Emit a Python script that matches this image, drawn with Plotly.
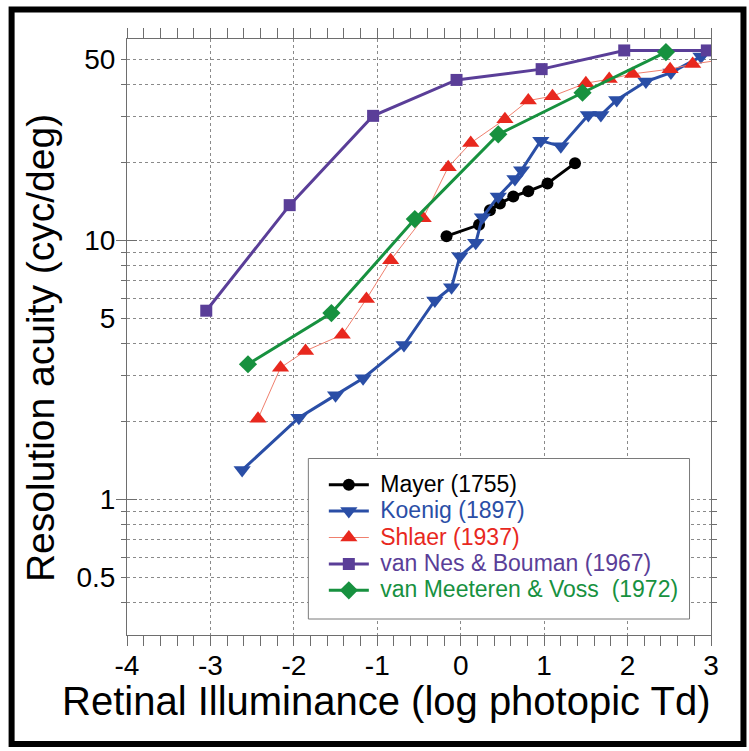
import plotly.graph_objects as go
import math

# ---- data (log photopic Td, cyc/deg) ----
mayer_x = [-0.17, 0.22, 0.35, 0.47, 0.63, 0.81, 1.04, 1.37]
mayer_y = [10.4, 11.5, 13.1, 13.9, 14.8, 15.5, 16.6, 19.9]

koenig_x = [-2.62, -1.94, -1.50, -1.17, -0.68, -0.31, -0.11, -0.01, 0.18, 0.26, 0.45, 0.65, 0.73, 0.96, 1.20, 1.53, 1.68, 1.87, 2.22, 2.52, 2.88]
koenig_y = [1.30, 2.07, 2.53, 2.94, 3.95, 5.87, 6.6, 8.7, 9.8, 12.3, 14.8, 17.3, 18.7, 24.3, 23.1, 30.5, 30.5, 34.9, 41.1, 44.5, 51.3]

shlaer_x = [-2.43, -2.16, -1.86, -1.42, -1.13, -0.84, -0.45, -0.15, 0.12, 0.53, 0.81, 1.10, 1.50, 1.78, 2.06, 2.51, 2.78, 3.15]
shlaer_y = [2.05, 3.23, 3.75, 4.33, 5.95, 8.4, 12.2, 19.2, 23.8, 29.4, 34.7, 36.1, 40.5, 42.0, 44.0, 45.9, 48.0, 50.0]

vannes_x = [-3.05, -2.05, -1.05, -0.05, 0.97, 1.96, 2.95]
vannes_y = [5.36, 13.7, 30.3, 41.7, 45.9, 54.2, 54.2]

vanmeeteren_x = [-2.55, -1.55, -0.55, 0.45, 1.46, 2.46]
vanmeeteren_y = [3.33, 5.25, 12.1, 25.7, 37.2, 53.4]

y_tickvals = [0.5, 1, 5, 10, 50]
y_ticktext = ["0.5", "1", "5", "10", "50"]
y_minorvals = [0.4, 0.6, 0.7, 0.8, 0.9, 2, 3, 4, 6, 7, 8, 9, 20, 30, 40]
x_tickvals = [-4, -3, -2, -1, 0, 1, 2, 3]
x_ticktext = ["-4", "-3", "-2", "-1", "0", "1", "2", "3"]

BLACK = "#000000"
BLUE = "#2a4ea6"
RED = "#e8281e"
RED_LINE = "#f0806e"
PURPLE = "#5a3e98"
GREEN = "#17913f"

FONT = "Liberation Sans, Arial, Helvetica, sans-serif"

fig = go.Figure()

def label(text, color):
    return f"<span style='color:{color}; font-size:23px'>&nbsp;{text}</span>"

fig.add_trace(go.Scatter(x=mayer_x, y=mayer_y, mode="lines+markers",
                         name=label("Mayer (1755)", BLACK),
                         line=dict(color=BLACK, width=3),
                         marker=dict(symbol="circle", size=12, color=BLACK)))
fig.add_trace(go.Scatter(x=koenig_x, y=koenig_y, mode="lines+markers",
                         name=label("Koenig (1897)", BLUE),
                         line=dict(color=BLUE, width=3),
                         marker=dict(symbol="triangle-down", size=15, color=BLUE)))
fig.add_trace(go.Scatter(x=shlaer_x, y=shlaer_y, mode="lines+markers",
                         name=label("Shlaer (1937)", RED),
                         line=dict(color=RED_LINE, width=1),
                         marker=dict(symbol="triangle-up", size=15, color=RED)))
fig.add_trace(go.Scatter(x=vannes_x, y=vannes_y, mode="lines+markers",
                         name=label("van Nes &amp; Bouman (1967)", PURPLE),
                         line=dict(color=PURPLE, width=3),
                         marker=dict(symbol="square", size=12, color=PURPLE)))
fig.add_trace(go.Scatter(x=vanmeeteren_x, y=vanmeeteren_y, mode="lines+markers",
                         name=label("van Meeteren &amp; Voss&nbsp; (1972)", GREEN),
                         line=dict(color=GREEN, width=3),
                         marker=dict(symbol="diamond", size=14, color=GREEN)))

# dummy traces to attach overlay axes (long major ticks at 1 and 10)
fig.add_trace(go.Scatter(x=[-10], y=[1], yaxis="y2", mode="markers",
                         showlegend=False, hoverinfo="skip", marker=dict(opacity=0)))
fig.add_trace(go.Scatter(x=[-10], y=[1], yaxis="y3", mode="markers",
                         showlegend=False, hoverinfo="skip", marker=dict(opacity=0)))

AX = "#6e6e6e"
GRID = "#8a8a8a"
yr = [math.log10(0.3), math.log10(60)]

W, H = 749, 751
L, R, T, B = 127, 37.5, 39, 116
pw = W - L - R
ph = H - T - B

def px(xp):
    return (xp - L) / pw

def py(yp):
    return (H - B - yp) / ph

fig.update_layout(
    width=W, height=H,
    margin=dict(l=L, r=R, t=T, b=B),
    paper_bgcolor="white", plot_bgcolor="white",
    font=dict(family=FONT, color="black"),
    showlegend=True,
    legend=dict(x=px(324), y=py(466.5), xanchor="left", yanchor="top",
                bgcolor="rgba(0,0,0,0)", borderwidth=0,
                font=dict(size=18, family=FONT), tracegroupgap=0,
                itemwidth=40),
    xaxis=dict(range=[-4, 3], tickvals=x_tickvals, ticktext=x_ticktext,
               ticks="outside", ticklen=10, ticklabelstandoff=-5,
               tickcolor=AX, tickwidth=1, showline=True, linecolor=AX, linewidth=1,
               mirror="allticks", showgrid=True, gridcolor=GRID, griddash="dot",
               gridwidth=1, zeroline=False,
               tickfont=dict(size=28, family=FONT),
               minor=dict(dtick=0.2, ticks="outside", ticklen=5, tickcolor=AX,
                          showgrid=False)),
    yaxis=dict(type="log", range=yr, tickvals=y_tickvals, ticktext=y_ticktext,
               ticks="outside", ticklen=5, tickcolor=AX, tickwidth=1,
               showline=True, linecolor=AX, linewidth=1, mirror="allticks",
               showgrid=True, gridcolor=GRID, griddash="dot", gridwidth=1,
               zeroline=False, tickfont=dict(size=28, family=FONT),
               minor=dict(tickvals=y_minorvals, ticks="outside", ticklen=5,
                          tickcolor=AX, showgrid=True, gridcolor=GRID,
                          griddash="dot", gridwidth=1)),
    yaxis2=dict(type="log", range=yr, overlaying="y", side="left",
                tickvals=[1, 10], ticks="outside", ticklen=10, tickcolor=AX,
                showticklabels=False, showgrid=False, zeroline=False, showline=False),
    yaxis3=dict(type="log", range=yr, overlaying="y", side="left",
                tickvals=[1, 10], ticks="inside", ticklen=10, tickcolor=AX,
                showticklabels=False, showgrid=False, zeroline=False, showline=False),
)

# axis titles as annotations
fig.add_annotation(text="Retinal Illuminance (log photopic Td)", xref="paper", yref="paper",
                   x=px(387), y=py(701), xanchor="center", yanchor="middle",
                   showarrow=False, font=dict(size=40, family=FONT, color="black"))
fig.add_annotation(text="Resolution acuity (cyc/deg)", xref="paper", yref="paper",
                   x=px(40), y=py(348), xanchor="center", yanchor="middle",
                   textangle=-90, showarrow=False,
                   font=dict(size=39, family=FONT, color="black"))

# legend box (white, gray border) drawn over the grid
fig.add_shape(type="rect", xref="paper", yref="paper",
              x0=px(308.5), x1=px(690), y0=py(458.5), y1=py(619),
              line=dict(color="#7a7a7a", width=1), fillcolor="white", layer="above")

# black frame around the picture
fig.add_shape(type="rect", xref="paper", yref="paper",
              x0=px(11.5), x1=px(744), y0=py(9.5), y1=py(744),
              line=dict(color="black", width=6), fillcolor="rgba(0,0,0,0)", layer="above")

fig.write_html("out.html", config={"displayModeBar": False},
               post_script="document.body.style.margin='0px';")
